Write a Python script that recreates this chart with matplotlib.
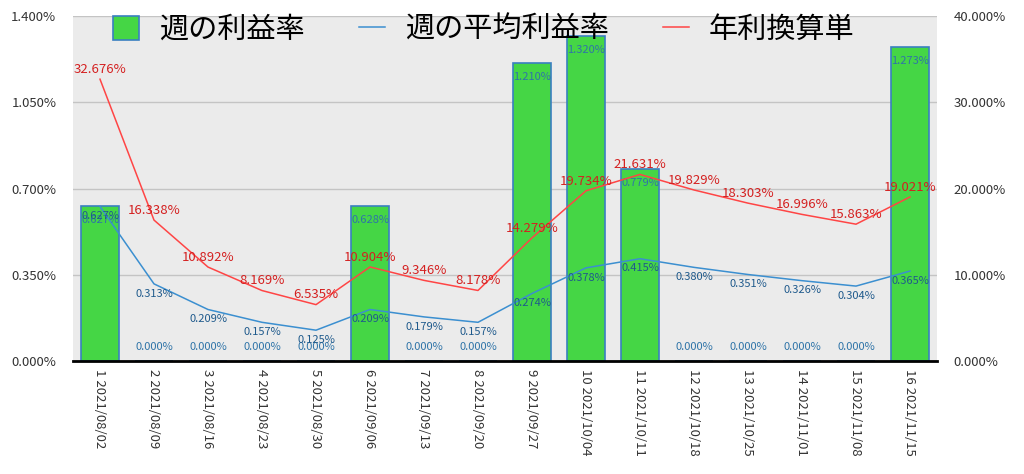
import matplotlib
matplotlib.use('Agg')
from matplotlib import pyplot as plt
from matplotlib.patches import Patch
from matplotlib.lines import Line2D
import numpy as np

plt.rcParams['font.family'] = ['Noto Sans CJK JP', 'DejaVu Sans']

# data
weeks = ['1 2021/08/02', '2 2021/08/09', '3 2021/08/16', '4 2021/08/23',
         '5 2021/08/30', '6 2021/09/06', '7 2021/09/13', '8 2021/09/20',
         '9 2021/09/27', '10 2021/10/04', '11 2021/10/11', '12 2021/10/18',
         '13 2021/10/25', '14 2021/11/01', '15 2021/11/08', '16 2021/11/15']
weekly_rate = [0.627, 0.0, 0.0, 0.0, 0.0, 0.628, 0.0, 0.0,
               1.210, 1.320, 0.779, 0.0, 0.0, 0.0, 0.0, 1.273]
avg_rate = [0.627, 0.313, 0.209, 0.157, 0.125, 0.209, 0.179, 0.157,
            0.274, 0.378, 0.415, 0.380, 0.351, 0.326, 0.304, 0.365]
annual_rate = [32.676, 16.338, 10.892, 8.169, 6.535, 10.904, 9.346, 8.178,
               14.279, 19.734, 21.631, 19.829, 18.303, 16.996, 15.863, 19.021]
series_names = ['週の利益率', '週の平均利益率', '年利換算単']

bar_col = '#45d645'
edge_col = '#3a7fc0'
blue_col = '#3b8fd0'
red_col = '#ff4545'

fig = plt.figure(figsize=(10.24, 4.74), dpi=100)
ax = fig.add_axes([73 / 1024, 1 - 361 / 474, (937 - 73) / 1024, (361 - 16) / 474])
ax2 = ax.twinx()

x = np.arange(len(weeks))
ax.set_facecolor('#ebebeb')
ax.bar(x, weekly_rate, width=0.7, color=bar_col, edgecolor=edge_col, linewidth=1.2, zorder=2)
ax.plot(x, avg_rate, color=blue_col, lw=1.1, zorder=3)

ax.set_ylim(0, 1.4)
ax.set_yticks([0, 0.35, 0.7, 1.05, 1.4])
ax.set_yticklabels(['%.3f%%' % v for v in [0, 0.35, 0.7, 1.05, 1.4]], fontsize=9.5, color='#333333')
ax.set_xlim(-0.5, len(weeks) - 0.5)
ax.set_xticks(x)
ax.set_xticklabels(weeks, rotation=-90, fontsize=9.5, color='#333333')
ax.tick_params(axis='x', length=0, pad=6)
ax.tick_params(axis='y', length=0, pad=12)
ax.yaxis.grid(True, color='#c4c4c4', lw=1)
ax.set_axisbelow(True)
for s in ['left', 'right', 'top']:
    ax.spines[s].set_visible(False)
ax.spines['bottom'].set_color('black')
ax.spines['bottom'].set_linewidth(2)

ax2.plot(x, annual_rate, color=red_col, lw=1.1, zorder=3)
ax2.set_ylim(0, 40)
ax2.set_yticks([0, 10, 20, 30, 40])
ax2.set_yticklabels(['%.3f%%' % v for v in [0, 10, 20, 30, 40]], fontsize=9.5, color='#333333')
ax2.tick_params(length=0, pad=12)
for s in ['left', 'right', 'top', 'bottom']:
    ax2.spines[s].set_visible(False)

# value labels
for xi, v in zip(x, weekly_rate):
    off = -10 if v > 0 else 10
    ax.annotate('%.3f%%' % v, (xi, v), xytext=(0, off), textcoords='offset points',
                ha='center', va='center', fontsize=8, color='#2f74a8', zorder=5)
for xi, v in zip(x, avg_rate):
    ax.annotate('%.3f%%' % v, (xi, v), xytext=(0, -7), textcoords='offset points',
                ha='center', va='center', fontsize=8, color='#1f5a8c', zorder=5)
for xi, v in zip(x, annual_rate):
    ax2.annotate('%.3f%%' % v, (xi, v), xytext=(0, 7), textcoords='offset points',
                 ha='center', va='center', fontsize=9.5, color='#d42020', zorder=5)

handles = [Patch(facecolor=bar_col, edgecolor=edge_col, linewidth=1.2),
           Line2D([], [], color=blue_col, lw=1.1),
           Line2D([], [], color=red_col, lw=1.1)]
fig.legend(handles, series_names, loc='center left',
           bbox_to_anchor=(113 / 1024, 1 - 30 / 474), borderaxespad=0, borderpad=0,
           ncol=3, frameon=False, fontsize=21, handlelength=0.9, handleheight=0.93,
           columnspacing=1.85, handletextpad=0.68)

fig.savefig('out.png', dpi=100)
